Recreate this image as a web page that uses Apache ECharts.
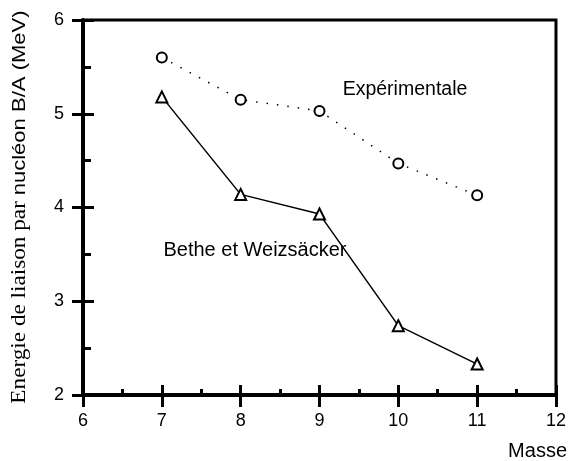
<!DOCTYPE html>
<html>
<head>
<meta charset="utf-8">
<script src="https://cdn.jsdelivr.net/npm/echarts@6/dist/echarts.min.js"></script>
<style>
  html, body { margin: 0; padding: 0; background: #fff; }
  #main { width: 569px; height: 461px; }
</style>
</head>
<body>
<div id="main"></div>
<script>
// masses (nombre de nucleons)
var masses = [7, 8, 9, 10, 11];
// energie de liaison par nucleon, MeV
var experimentale = [5.6, 5.15, 5.03, 4.47, 4.13];
var betheWeizsacker = [5.18, 4.14, 3.93, 2.74, 2.33];

var chart = echarts.init(document.getElementById('main'));

function pairs(xs, ys) {
  var out = [];
  for (var i = 0; i < xs.length; i++) out.push([xs[i], ys[i]]);
  return out;
}

var sans = '"Liberation Sans", Arial, sans-serif';
var serif = '"Liberation Serif", "Times New Roman", serif';

var option = {
  animation: false,
  grid: {
    left: 83, right: 10, top: 20, bottom: 66,
    show: true,
    borderColor: '#000',
    borderWidth: 3
  },
  xAxis: [
    {
      type: 'value', min: 6, max: 12, interval: 1,
      axisLine: { show: true, lineStyle: { color: '#000', width: 4 } },
      axisTick: { show: true, inside: false, length: 12, lineStyle: { color: '#000', width: 3 } },
      axisLabel: { fontFamily: sans, fontSize: 18, color: '#000', margin: 17 },
      splitLine: { show: false }
    },
    {
      type: 'value', min: 6, max: 12, interval: 1, position: 'bottom',
      axisLine: { show: false },
      axisTick: { show: true, inside: true, length: 10, lineStyle: { color: '#000', width: 3 } },
      minorTick: { show: true, splitNumber: 2, length: 6, lineStyle: { color: '#000', width: 3 } },
      axisLabel: { show: false },
      splitLine: { show: false }
    }
  ],
  yAxis: [
    {
      type: 'value', min: 2, max: 6, interval: 1,
      axisLine: { show: true, lineStyle: { color: '#000', width: 4 } },
      axisTick: { show: true, inside: false, length: 11, lineStyle: { color: '#000', width: 3 } },
      axisLabel: { fontFamily: sans, fontSize: 18, color: '#000', margin: 19 },
      splitLine: { show: false }
    },
    {
      type: 'value', min: 2, max: 6, interval: 1, position: 'left',
      axisLine: { show: false },
      axisTick: { show: true, inside: true, length: 11, lineStyle: { color: '#000', width: 3 } },
      minorTick: { show: true, splitNumber: 2, length: 8, lineStyle: { color: '#000', width: 3 } },
      axisLabel: { show: false },
      splitLine: { show: false }
    }
  ],
  graphic: [
    {
      type: 'text', x: 20, y: 207, rotation: Math.PI / 2, scaleX: 1.16,
      style: {
        text: '{a|Energie de liaison par }{b|nucléon B/A (MeV)}',
        align: 'center', verticalAlign: 'middle',
        rich: {
          a: { fontFamily: serif, fontSize: 20, fill: '#000' },
          b: { fontFamily: sans, fontSize: 19, fill: '#000' }
        }
      }
    },
    {
      type: 'text', x: 405, y: 90,
      style: { text: 'Expérimentale', fontFamily: sans, fontSize: 19.5, fill: '#000', align: 'center', verticalAlign: 'middle' }
    },
    {
      type: 'text', x: 255, y: 250,
      style: { text: 'Bethe et Weizsäcker', fontFamily: sans, fontSize: 20, fill: '#000', align: 'center', verticalAlign: 'middle' }
    },
    {
      type: 'text', x: 567, y: 451,
      style: { text: 'Masse', fontFamily: sans, fontSize: 20, fill: '#000', align: 'right', verticalAlign: 'middle' }
    }
  ],
  series: [
    {
      name: 'Expérimentale',
      type: 'line',
      data: pairs(masses, experimentale),
      symbol: 'emptyCircle', symbolSize: 10,
      itemStyle: { color: '#000', borderWidth: 2 },
      lineStyle: { color: '#000', width: 1.5, type: [1.5, 9] }
    },
    {
      name: 'Bethe et Weizsäcker',
      type: 'line',
      data: pairs(masses, betheWeizsacker),
      symbol: 'emptyTriangle', symbolSize: 11,
      itemStyle: { color: '#000', borderWidth: 2 },
      lineStyle: { color: '#000', width: 1.5 }
    }
  ]
};

chart.setOption(option);
</script>
</body>
</html>
